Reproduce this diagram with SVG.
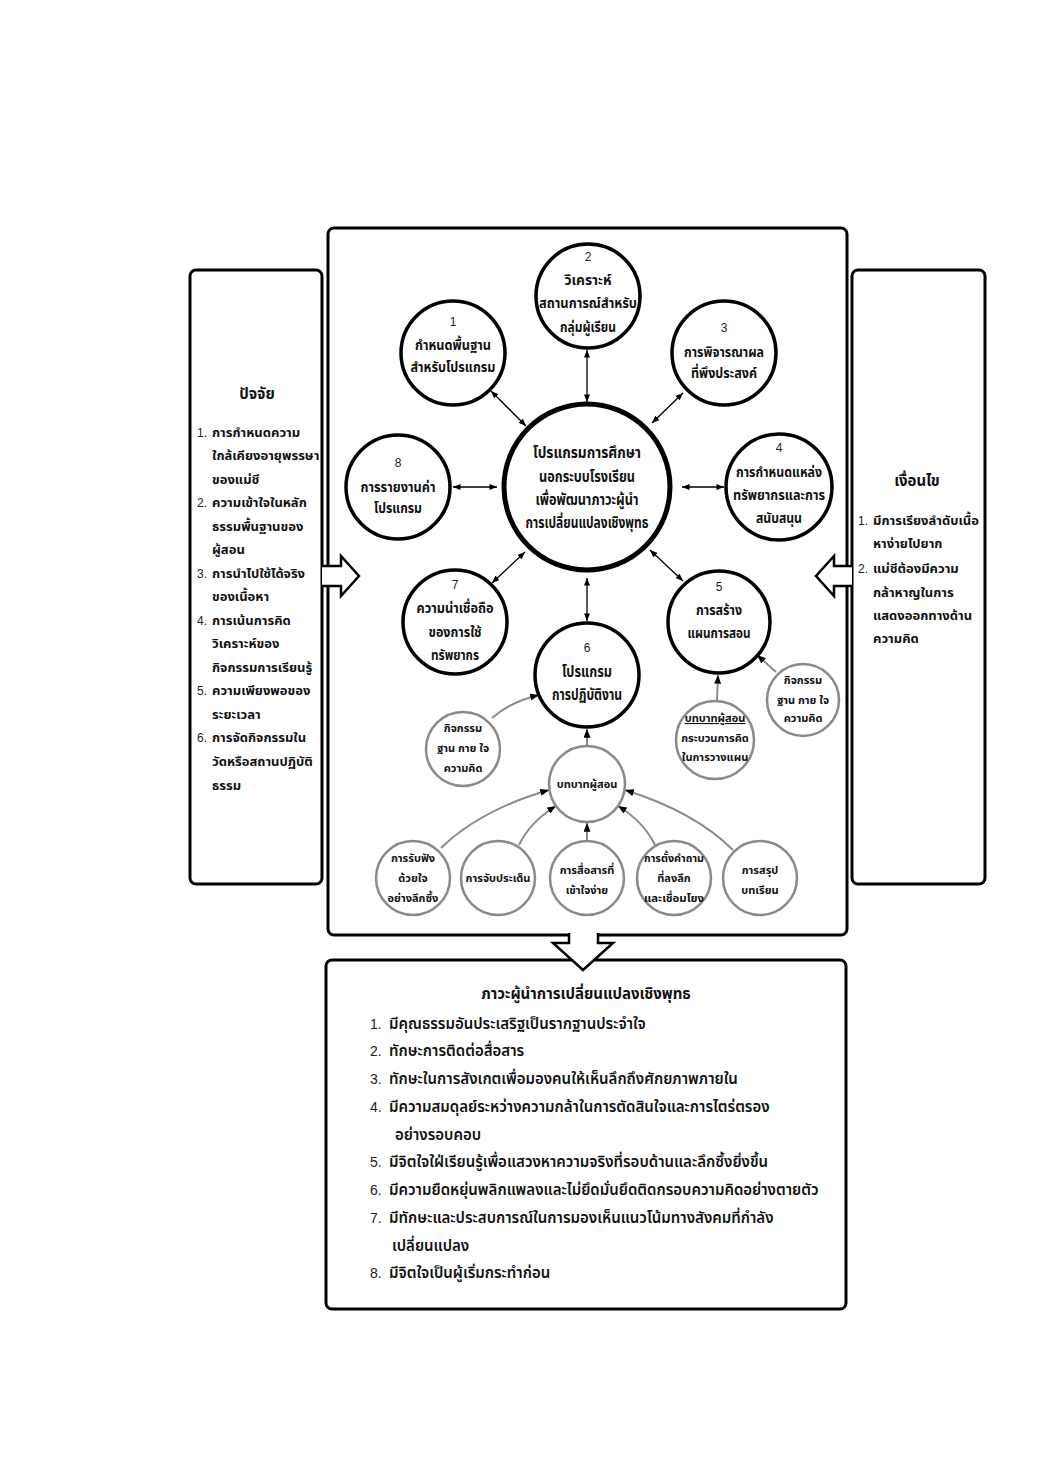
<svg xmlns="http://www.w3.org/2000/svg" width="1041" height="1472" viewBox="0 0 1041 1472">
<defs>
<style>
.box{fill:#fff;stroke:#000;stroke-width:3}
.c{fill:#fff;stroke:#000;stroke-width:3.5}
.cc{fill:#fff;stroke:#000;stroke-width:5}
.g{fill:#fff;stroke:#8a8a8a;stroke-width:2.5}
.ha{fill:none;stroke:#000;stroke-width:2.5;stroke-linejoin:miter}
.t{font-family:"Noto Sans Thai","Noto Sans","DejaVu Sans",sans-serif;font-weight:bold;font-size:14px;text-anchor:middle;fill:#111}
.big{font-size:15px}
.sm{font-size:11px}
.num{font-family:"Liberation Sans",Arial,sans-serif;font-weight:normal;font-size:12px;text-anchor:middle;fill:#222}
.l{font-family:"Noto Sans Thai","Noto Sans","DejaVu Sans",sans-serif;font-weight:bold;font-size:13px;fill:#111}
.ln{font-family:"Liberation Sans",Arial,sans-serif;font-size:12px;fill:#222}
.b{font-family:"Noto Sans Thai","Noto Sans","DejaVu Sans",sans-serif;font-weight:600;font-size:15px;fill:#111}
.bn{font-family:"Liberation Sans",Arial,sans-serif;font-size:14px;fill:#222}
.k{stroke:#000;stroke-width:1.3;fill:none;marker-start:url(#ah);marker-end:url(#ah)}
.gl{stroke:#8a8a8a;stroke-width:2;fill:none;marker-end:url(#ga)}
</style>
<marker id="ah" viewBox="0 0 10 8" refX="10" refY="4" markerWidth="8" markerHeight="6" markerUnits="userSpaceOnUse" orient="auto-start-reverse"><path d="M0,0 L10,4 L0,8 z" fill="#000"/></marker>
<marker id="ga" viewBox="0 0 10 8" refX="10" refY="4" markerWidth="9" markerHeight="7" markerUnits="userSpaceOnUse" orient="auto"><path d="M0,0 L10,4 L0,8 z" fill="#000"/></marker>
</defs>

<g id="box-factors"><rect class="box" x="190" y="270" width="132" height="614" rx="6"/></g>
<g id="box-program"><rect class="box" x="328" y="228" width="519" height="707" rx="6"/></g>
<g id="box-conditions"><rect class="box" x="852" y="270" width="133" height="614" rx="6"/></g>
<g id="box-leadership"><rect class="box" x="326" y="960" width="520" height="349" rx="6"/></g>

<g id="hollow-arrows">
<polygon points="322,566 341,566 341,556 359,576 341,596 341,586 322,586" fill="#fff" stroke="none"/>
<polyline class="ha" points="322,566 341,566 341,556 359,576 341,596 341,586 322,586"/>
<polygon points="852,566 834,566 834,556 816,576 834,596 834,586 852,586" fill="#fff" stroke="none"/>
<polyline class="ha" points="852,566 834,566 834,556 816,576 834,596 834,586 852,586"/>
<polygon points="569,930 569,943 553,943 583,970 613,943 598,943 598,930" fill="#fff" stroke="none"/>
<polyline class="ha" points="569,933 569,943 553,943 583,970 613,943 598,943 598,933"/>
</g>

<g id="connectors">
<path class="k" d="M491,391 L526,426"/>
<path class="k" d="M587,350 L587,402"/>
<path class="k" d="M683,393 L652,423"/>
<path class="k" d="M453,487 L497,487"/>
<path class="k" d="M682,487 L724,487"/>
<path class="k" d="M492,583 L525,552"/>
<path class="k" d="M650,550 L683,581"/>
<path class="k" d="M587,578 L587,621"/>
<path class="gl" d="M492,718 Q510,702 539,695"/>
<path class="gl" d="M587,746 L587,729"/>
<path class="gl" d="M717,701 L718,675"/>
<path class="gl" d="M776,672 L757,655"/>
<path class="gl" d="M441,848 Q480,810 549,790"/>
<path class="gl" d="M519,845 Q530,822 556,806"/>
<path class="gl" d="M587,842 L587,823"/>
<path class="gl" d="M655,845 Q644,822 618,806"/>
<path class="gl" d="M733,850 Q695,812 625,790"/>
</g>

<g id="n-center"><circle class="cc" cx="587" cy="487" r="83"/>
<text class="t big" x="587" y="458" textLength="108" lengthAdjust="spacingAndGlyphs">โปรแกรมการศึกษา</text>
<text class="t big" x="587" y="482" textLength="96" lengthAdjust="spacingAndGlyphs">นอกระบบโรงเรียน</text>
<text class="t big" x="587" y="505" textLength="103" lengthAdjust="spacingAndGlyphs">เพื่อพัฒนาภาวะผู้นำ</text>
<text class="t big" x="587" y="528" textLength="123" lengthAdjust="spacingAndGlyphs">การเปลี่ยนแปลงเชิงพุทธ</text></g>

<g id="n1"><circle class="c" cx="453" cy="353" r="52"/>
<text class="num" x="453" y="326">1</text>
<text class="t" x="453" y="350" textLength="76" lengthAdjust="spacingAndGlyphs">กำหนดพื้นฐาน</text>
<text class="t" x="453" y="372" textLength="85" lengthAdjust="spacingAndGlyphs">สำหรับโปรแกรม</text></g>

<g id="n2"><circle class="c" cx="588" cy="296" r="52"/>
<text class="num" x="588" y="261">2</text>
<text class="t" x="588" y="285" textLength="47" lengthAdjust="spacingAndGlyphs">วิเคราะห์</text>
<text class="t" x="588" y="308" textLength="98" lengthAdjust="spacingAndGlyphs">สถานการณ์สำหรับ</text>
<text class="t" x="588" y="332" textLength="56" lengthAdjust="spacingAndGlyphs">กลุ่มผู้เรียน</text></g>

<g id="n3"><circle class="c" cx="724" cy="353" r="52"/>
<text class="num" x="724" y="332">3</text>
<text class="t" x="724" y="357" textLength="80" lengthAdjust="spacingAndGlyphs">การพิจารณาผล</text>
<text class="t" x="724" y="378" textLength="66" lengthAdjust="spacingAndGlyphs">ที่พึงประสงค์</text></g>

<g id="n4"><circle class="c" cx="779" cy="487" r="53"/>
<text class="num" x="779" y="452">4</text>
<text class="t" x="779" y="477" textLength="86" lengthAdjust="spacingAndGlyphs">การกำหนดแหล่ง</text>
<text class="t" x="779" y="500" textLength="92" lengthAdjust="spacingAndGlyphs">ทรัพยากรและการ</text>
<text class="t" x="779" y="523" textLength="46" lengthAdjust="spacingAndGlyphs">สนับสนุน</text></g>

<g id="n5"><circle class="c" cx="719" cy="622" r="51"/>
<text class="num" x="719" y="591">5</text>
<text class="t" x="719" y="615" textLength="46" lengthAdjust="spacingAndGlyphs">การสร้าง</text>
<text class="t" x="719" y="638" textLength="63" lengthAdjust="spacingAndGlyphs">แผนการสอน</text></g>

<g id="n6"><circle class="c" cx="587" cy="675" r="52"/>
<text class="num" x="587" y="652">6</text>
<text class="t big" x="587" y="677" textLength="50" lengthAdjust="spacingAndGlyphs">โปรแกรม</text>
<text class="t big" x="587" y="700" textLength="70" lengthAdjust="spacingAndGlyphs">การปฏิบัติงาน</text></g>

<g id="n7"><circle class="c" cx="455" cy="622" r="52"/>
<text class="num" x="455" y="589">7</text>
<text class="t" x="455" y="613" textLength="77" lengthAdjust="spacingAndGlyphs">ความน่าเชื่อถือ</text>
<text class="t" x="455" y="637" textLength="53" lengthAdjust="spacingAndGlyphs">ของการใช้</text>
<text class="t" x="455" y="660" textLength="48" lengthAdjust="spacingAndGlyphs">ทรัพยากร</text></g>

<g id="n8"><circle class="c" cx="398" cy="487" r="52"/>
<text class="num" x="398" y="467">8</text>
<text class="t" x="398" y="492" textLength="75" lengthAdjust="spacingAndGlyphs">การรายงานค่า</text>
<text class="t" x="398" y="513" textLength="48" lengthAdjust="spacingAndGlyphs">โปรแกรม</text></g>

<g id="g-activity-left"><circle class="g" cx="463" cy="749" r="37"/>
<text class="t sm" x="463" y="732">กิจกรรม</text>
<text class="t sm" x="463" y="752">ฐาน กาย ใจ</text>
<text class="t sm" x="463" y="772">ความคิด</text></g>

<g id="g-teacher-role"><circle class="g" cx="587" cy="784" r="38"/>
<text class="t sm" x="587" y="788">บทบาทผู้สอน</text></g>

<g id="g-teacher-plan"><circle class="g" cx="715" cy="740" r="39"/>
<text class="t sm" x="715" y="722" text-decoration="underline">บทบาทผู้สอน</text>
<text class="t sm" x="715" y="742">กระบวนการคิด</text>
<text class="t sm" x="715" y="761">ในการวางแผน</text></g>

<g id="g-activity-right"><circle class="g" cx="803" cy="700" r="36"/>
<text class="t sm" x="803" y="684">กิจกรรม</text>
<text class="t sm" x="803" y="704">ฐาน กาย ใจ</text>
<text class="t sm" x="803" y="722">ความคิด</text></g>

<g id="g-listen"><circle class="g" cx="413" cy="878" r="37"/>
<text class="t sm" x="413" y="862">การรับฟัง</text>
<text class="t sm" x="413" y="882">ด้วยใจ</text>
<text class="t sm" x="413" y="902">อย่างลึกซึ้ง</text></g>

<g id="g-point"><circle class="g" cx="498" cy="878" r="37"/>
<text class="t sm" x="498" y="882">การจับประเด็น</text></g>

<g id="g-communicate"><circle class="g" cx="587" cy="878" r="37"/>
<text class="t sm" x="587" y="874">การสื่อสารที่</text>
<text class="t sm" x="587" y="894">เข้าใจง่าย</text></g>

<g id="g-question"><circle class="g" cx="674" cy="878" r="37"/>
<text class="t sm" x="674" y="862" textLength="60" lengthAdjust="spacingAndGlyphs">การตั้งคำถาม</text>
<text class="t sm" x="674" y="882">ที่ลงลึก</text>
<text class="t sm" x="674" y="902" textLength="60" lengthAdjust="spacingAndGlyphs">และเชื่อมโยง</text></g>

<g id="g-summary"><circle class="g" cx="760" cy="878" r="37"/>
<text class="t sm" x="760" y="874">การสรุป</text>
<text class="t sm" x="760" y="894">บทเรียน</text></g>

<g id="factors-text">
<text class="t big" x="257" y="399">ปัจจัย</text>
<text class="ln" x="197" y="437">1.</text><text class="l" x="212" y="437">การกำหนดความ</text>
<text class="l" x="212" y="460">ใกล้เคียงอายุพรรษา</text>
<text class="l" x="212" y="484">ของแม่ชี</text>
<text class="ln" x="197" y="507">2.</text><text class="l" x="212" y="507">ความเข้าใจในหลัก</text>
<text class="l" x="212" y="531">ธรรมพื้นฐานของ</text>
<text class="l" x="212" y="554">ผู้สอน</text>
<text class="ln" x="197" y="578">3.</text><text class="l" x="212" y="578">การนำไปใช้ได้จริง</text>
<text class="l" x="212" y="601">ของเนื้อหา</text>
<text class="ln" x="197" y="625">4.</text><text class="l" x="212" y="625">การเน้นการคิด</text>
<text class="l" x="212" y="648">วิเคราะห์ของ</text>
<text class="l" x="212" y="672">กิจกรรมการเรียนรู้</text>
<text class="ln" x="197" y="695">5.</text><text class="l" x="212" y="695">ความเพียงพอของ</text>
<text class="l" x="212" y="719">ระยะเวลา</text>
<text class="ln" x="197" y="742">6.</text><text class="l" x="212" y="742">การจัดกิจกรรมใน</text>
<text class="l" x="212" y="766">วัดหรือสถานปฏิบัติ</text>
<text class="l" x="212" y="790">ธรรม</text>
</g>

<g id="conditions-text">
<text class="t big" x="917" y="486">เงื่อนไข</text>
<text class="ln" x="858" y="525">1.</text><text class="l" x="873" y="525">มีการเรียงลำดับเนื้อ</text>
<text class="l" x="873" y="548">หาง่ายไปยาก</text>
<text class="ln" x="858" y="573">2.</text><text class="l" x="873" y="573">แม่ชีต้องมีความ</text>
<text class="l" x="873" y="597">กล้าหาญในการ</text>
<text class="l" x="873" y="620">แสดงออกทางด้าน</text>
<text class="l" x="873" y="643">ความคิด</text>
</g>

<g id="leadership-text">
<text class="t big" x="586" y="999">ภาวะผู้นำการเปลี่ยนแปลงเชิงพุทธ</text>
<text class="bn" x="370" y="1029">1.</text><text class="b" x="389" y="1029">มีคุณธรรมอันประเสริฐเป็นรากฐานประจำใจ</text>
<text class="bn" x="370" y="1056">2.</text><text class="b" x="389" y="1056">ทักษะการติดต่อสื่อสาร</text>
<text class="bn" x="370" y="1084">3.</text><text class="b" x="389" y="1084">ทักษะในการสังเกตเพื่อมองคนให้เห็นลึกถึงศักยภาพภายใน</text>
<text class="bn" x="370" y="1112">4.</text><text class="b" x="389" y="1112">มีความสมดุลย์ระหว่างความกล้าในการตัดสินใจและการไตร่ตรอง</text>
<text class="b" x="395" y="1140">อย่างรอบคอบ</text>
<text class="bn" x="370" y="1167">5.</text><text class="b" x="389" y="1167">มีจิตใจใฝ่เรียนรู้เพื่อแสวงหาความจริงที่รอบด้านและลึกซึ้งยิ่งขึ้น</text>
<text class="bn" x="370" y="1195">6.</text><text class="b" x="389" y="1195">มีความยืดหยุ่นพลิกแพลงและไม่ยึดมั่นยึดติดกรอบความคิดอย่างตายตัว</text>
<text class="bn" x="370" y="1223">7.</text><text class="b" x="389" y="1223">มีทักษะและประสบการณ์ในการมองเห็นแนวโน้มทางสังคมที่กำลัง</text>
<text class="b" x="392" y="1251">เปลี่ยนแปลง</text>
<text class="bn" x="370" y="1278">8.</text><text class="b" x="389" y="1278">มีจิตใจเป็นผู้เริ่มกระทำก่อน</text>
</g>
</svg>
